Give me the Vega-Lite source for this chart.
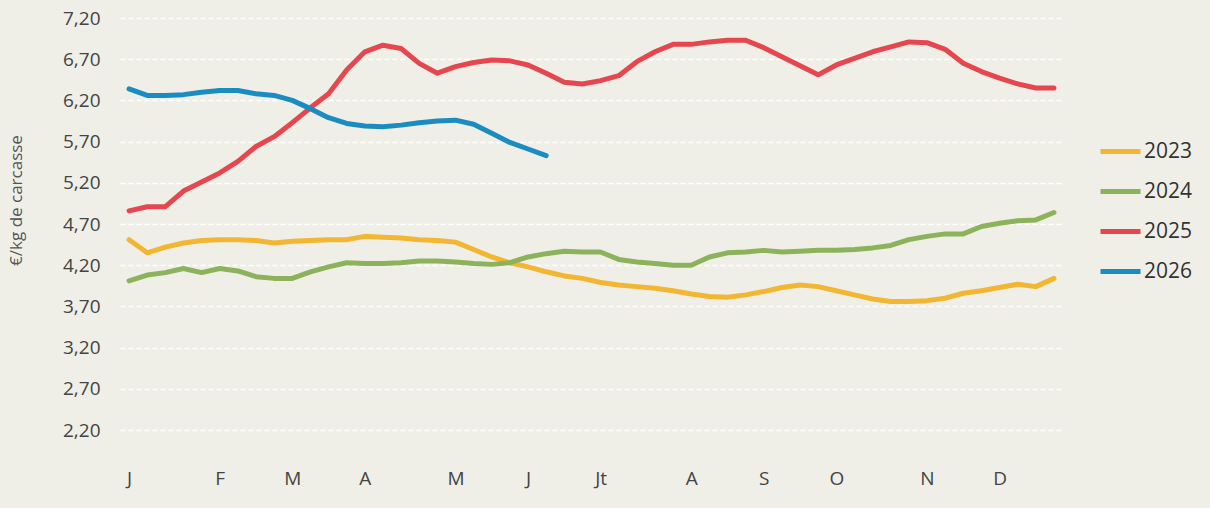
{
  "$schema": "https://vega.github.io/schema/vega-lite/v6.json",
  "autosize": "none",
  "width": 943,
  "height": 412,
  "padding": {"left": 120, "top": 18, "right": 147, "bottom": 78},
  "background": "#efefe7",
  "config": {
    "view": {"stroke": null},
    "font": "Open Sans"
  },
  "datasets": {
    "prices": [
      {"year": "2023", "week": 1, "price": 4.51}, {"year": "2023", "week": 2, "price": 4.35}, {"year": "2023", "week": 3, "price": 4.42}, {"year": "2023", "week": 4, "price": 4.47}, {"year": "2023", "week": 5, "price": 4.50}, {"year": "2023", "week": 6, "price": 4.51}, {"year": "2023", "week": 7, "price": 4.51}, {"year": "2023", "week": 8, "price": 4.50}, {"year": "2023", "week": 9, "price": 4.47}, {"year": "2023", "week": 10, "price": 4.49}, {"year": "2023", "week": 11, "price": 4.50}, {"year": "2023", "week": 12, "price": 4.51}, {"year": "2023", "week": 13, "price": 4.51}, {"year": "2023", "week": 14, "price": 4.55}, {"year": "2023", "week": 15, "price": 4.54}, {"year": "2023", "week": 16, "price": 4.53}, {"year": "2023", "week": 17, "price": 4.51}, {"year": "2023", "week": 18, "price": 4.50}, {"year": "2023", "week": 19, "price": 4.48}, {"year": "2023", "week": 20, "price": 4.39}, {"year": "2023", "week": 21, "price": 4.30}, {"year": "2023", "week": 22, "price": 4.23}, {"year": "2023", "week": 23, "price": 4.18}, {"year": "2023", "week": 24, "price": 4.12}, {"year": "2023", "week": 25, "price": 4.07}, {"year": "2023", "week": 26, "price": 4.04}, {"year": "2023", "week": 27, "price": 3.99}, {"year": "2023", "week": 28, "price": 3.96}, {"year": "2023", "week": 29, "price": 3.94}, {"year": "2023", "week": 30, "price": 3.92}, {"year": "2023", "week": 31, "price": 3.89}, {"year": "2023", "week": 32, "price": 3.85}, {"year": "2023", "week": 33, "price": 3.82}, {"year": "2023", "week": 34, "price": 3.81}, {"year": "2023", "week": 35, "price": 3.84}, {"year": "2023", "week": 36, "price": 3.88}, {"year": "2023", "week": 37, "price": 3.93}, {"year": "2023", "week": 38, "price": 3.96}, {"year": "2023", "week": 39, "price": 3.94}, {"year": "2023", "week": 40, "price": 3.89}, {"year": "2023", "week": 41, "price": 3.84}, {"year": "2023", "week": 42, "price": 3.79}, {"year": "2023", "week": 43, "price": 3.76}, {"year": "2023", "week": 44, "price": 3.76}, {"year": "2023", "week": 45, "price": 3.77}, {"year": "2023", "week": 46, "price": 3.80}, {"year": "2023", "week": 47, "price": 3.86}, {"year": "2023", "week": 48, "price": 3.89}, {"year": "2023", "week": 49, "price": 3.93}, {"year": "2023", "week": 50, "price": 3.97}, {"year": "2023", "week": 51, "price": 3.94}, {"year": "2023", "week": 52, "price": 4.04},
      {"year": "2024", "week": 1, "price": 4.01}, {"year": "2024", "week": 2, "price": 4.08}, {"year": "2024", "week": 3, "price": 4.11}, {"year": "2024", "week": 4, "price": 4.16}, {"year": "2024", "week": 5, "price": 4.11}, {"year": "2024", "week": 6, "price": 4.16}, {"year": "2024", "week": 7, "price": 4.13}, {"year": "2024", "week": 8, "price": 4.06}, {"year": "2024", "week": 9, "price": 4.04}, {"year": "2024", "week": 10, "price": 4.04}, {"year": "2024", "week": 11, "price": 4.12}, {"year": "2024", "week": 12, "price": 4.18}, {"year": "2024", "week": 13, "price": 4.23}, {"year": "2024", "week": 14, "price": 4.22}, {"year": "2024", "week": 15, "price": 4.22}, {"year": "2024", "week": 16, "price": 4.23}, {"year": "2024", "week": 17, "price": 4.25}, {"year": "2024", "week": 18, "price": 4.25}, {"year": "2024", "week": 19, "price": 4.24}, {"year": "2024", "week": 20, "price": 4.22}, {"year": "2024", "week": 21, "price": 4.21}, {"year": "2024", "week": 22, "price": 4.23}, {"year": "2024", "week": 23, "price": 4.30}, {"year": "2024", "week": 24, "price": 4.34}, {"year": "2024", "week": 25, "price": 4.37}, {"year": "2024", "week": 26, "price": 4.36}, {"year": "2024", "week": 27, "price": 4.36}, {"year": "2024", "week": 28, "price": 4.27}, {"year": "2024", "week": 29, "price": 4.24}, {"year": "2024", "week": 30, "price": 4.22}, {"year": "2024", "week": 31, "price": 4.20}, {"year": "2024", "week": 32, "price": 4.20}, {"year": "2024", "week": 33, "price": 4.30}, {"year": "2024", "week": 34, "price": 4.35}, {"year": "2024", "week": 35, "price": 4.36}, {"year": "2024", "week": 36, "price": 4.38}, {"year": "2024", "week": 37, "price": 4.36}, {"year": "2024", "week": 38, "price": 4.37}, {"year": "2024", "week": 39, "price": 4.38}, {"year": "2024", "week": 40, "price": 4.38}, {"year": "2024", "week": 41, "price": 4.39}, {"year": "2024", "week": 42, "price": 4.41}, {"year": "2024", "week": 43, "price": 4.44}, {"year": "2024", "week": 44, "price": 4.51}, {"year": "2024", "week": 45, "price": 4.55}, {"year": "2024", "week": 46, "price": 4.58}, {"year": "2024", "week": 47, "price": 4.58}, {"year": "2024", "week": 48, "price": 4.67}, {"year": "2024", "week": 49, "price": 4.71}, {"year": "2024", "week": 50, "price": 4.74}, {"year": "2024", "week": 51, "price": 4.75}, {"year": "2024", "week": 52, "price": 4.84},
      {"year": "2025", "week": 1, "price": 4.86}, {"year": "2025", "week": 2, "price": 4.91}, {"year": "2025", "week": 3, "price": 4.91}, {"year": "2025", "week": 4, "price": 5.10}, {"year": "2025", "week": 5, "price": 5.21}, {"year": "2025", "week": 6, "price": 5.32}, {"year": "2025", "week": 7, "price": 5.46}, {"year": "2025", "week": 8, "price": 5.64}, {"year": "2025", "week": 9, "price": 5.76}, {"year": "2025", "week": 10, "price": 5.93}, {"year": "2025", "week": 11, "price": 6.11}, {"year": "2025", "week": 12, "price": 6.28}, {"year": "2025", "week": 13, "price": 6.57}, {"year": "2025", "week": 14, "price": 6.79}, {"year": "2025", "week": 15, "price": 6.87}, {"year": "2025", "week": 16, "price": 6.83}, {"year": "2025", "week": 17, "price": 6.65}, {"year": "2025", "week": 18, "price": 6.53}, {"year": "2025", "week": 19, "price": 6.61}, {"year": "2025", "week": 20, "price": 6.66}, {"year": "2025", "week": 21, "price": 6.69}, {"year": "2025", "week": 22, "price": 6.68}, {"year": "2025", "week": 23, "price": 6.63}, {"year": "2025", "week": 24, "price": 6.53}, {"year": "2025", "week": 25, "price": 6.42}, {"year": "2025", "week": 26, "price": 6.40}, {"year": "2025", "week": 27, "price": 6.44}, {"year": "2025", "week": 28, "price": 6.50}, {"year": "2025", "week": 29, "price": 6.67}, {"year": "2025", "week": 30, "price": 6.79}, {"year": "2025", "week": 31, "price": 6.88}, {"year": "2025", "week": 32, "price": 6.88}, {"year": "2025", "week": 33, "price": 6.91}, {"year": "2025", "week": 34, "price": 6.93}, {"year": "2025", "week": 35, "price": 6.93}, {"year": "2025", "week": 36, "price": 6.84}, {"year": "2025", "week": 37, "price": 6.73}, {"year": "2025", "week": 38, "price": 6.62}, {"year": "2025", "week": 39, "price": 6.51}, {"year": "2025", "week": 40, "price": 6.63}, {"year": "2025", "week": 41, "price": 6.71}, {"year": "2025", "week": 42, "price": 6.79}, {"year": "2025", "week": 43, "price": 6.85}, {"year": "2025", "week": 44, "price": 6.91}, {"year": "2025", "week": 45, "price": 6.90}, {"year": "2025", "week": 46, "price": 6.82}, {"year": "2025", "week": 47, "price": 6.65}, {"year": "2025", "week": 48, "price": 6.55}, {"year": "2025", "week": 49, "price": 6.47}, {"year": "2025", "week": 50, "price": 6.40}, {"year": "2025", "week": 51, "price": 6.35}, {"year": "2025", "week": 52, "price": 6.35},
      {"year": "2026", "week": 1, "price": 6.34}, {"year": "2026", "week": 2, "price": 6.26}, {"year": "2026", "week": 3, "price": 6.26}, {"year": "2026", "week": 4, "price": 6.27}, {"year": "2026", "week": 5, "price": 6.30}, {"year": "2026", "week": 6, "price": 6.32}, {"year": "2026", "week": 7, "price": 6.32}, {"year": "2026", "week": 8, "price": 6.28}, {"year": "2026", "week": 9, "price": 6.26}, {"year": "2026", "week": 10, "price": 6.20}, {"year": "2026", "week": 11, "price": 6.10}, {"year": "2026", "week": 12, "price": 5.99}, {"year": "2026", "week": 13, "price": 5.92}, {"year": "2026", "week": 14, "price": 5.89}, {"year": "2026", "week": 15, "price": 5.88}, {"year": "2026", "week": 16, "price": 5.90}, {"year": "2026", "week": 17, "price": 5.93}, {"year": "2026", "week": 18, "price": 5.95}, {"year": "2026", "week": 19, "price": 5.96}, {"year": "2026", "week": 20, "price": 5.91}, {"year": "2026", "week": 21, "price": 5.80}, {"year": "2026", "week": 22, "price": 5.69}, {"year": "2026", "week": 23, "price": 5.61}, {"year": "2026", "week": 24, "price": 5.53}
    ]
  },
  "data": {"name": "prices"},
  "mark": {"type": "line", "strokeWidth": 5, "strokeCap": "round", "strokeJoin": "round"},
  "encoding": {
    "x": {
      "field": "week",
      "type": "quantitative",
      "scale": {"domain": [0.5, 52.5], "nice": false, "zero": false},
      "axis": {
        "title": null,
        "values": [1, 6, 10, 14, 19, 23, 27, 32, 36, 40, 45, 49],
        "labelExpr": "({'1':'J','6':'F','10':'M','14':'A','19':'M','23':'J','27':'Jt','32':'A','36':'S','40':'O','45':'N','49':'D'})[datum.value + '']",
        "grid": false,
        "domain": false,
        "ticks": false,
        "labelPadding": 39,
        "labelFontSize": 19,
        "labelColor": "#444444",
        "labelFlush": false
      }
    },
    "y": {
      "field": "price",
      "type": "quantitative",
      "scale": {"domain": [2.2, 7.2], "nice": false, "zero": false},
      "axis": {
        "title": "€/kg de carcasse",
        "titleFontSize": 17,
        "titleFontWeight": "normal",
        "titleColor": "#555555",
        "titleX": -95,
        "titleY": 182,
        "values": [2.2, 2.7, 3.2, 3.7, 4.2, 4.7, 5.2, 5.7, 6.2, 6.7, 7.2],
        "labelExpr": "replace(format(datum.value, '.2f'), '.', ',')",
        "domain": false,
        "ticks": false,
        "labelPadding": 20,
        "labelFontSize": 19,
        "labelColor": "#444444",
        "gridColor": "#ffffff",
        "gridWidth": 1.5,
        "gridDash": [5, 3],
        "gridOpacity": 1
      }
    },
    "color": {
      "field": "year",
      "type": "nominal",
      "scale": {"domain": ["2023", "2024", "2025", "2026"], "range": ["#f2b632", "#8cb35b", "#e6474f", "#1b8cc0"]},
      "legend": {
        "title": null,
        "orient": "none",
        "legendX": 978,
        "legendY": 111,
        "symbolType": "stroke",
        "symbolSize": 1600,
        "symbolStrokeWidth": 5,
        "labelFontSize": 21,
        "labelColor": "#333333",
        "labelOffset": 1,
        "rowPadding": 7
      }
    }
  }
}
